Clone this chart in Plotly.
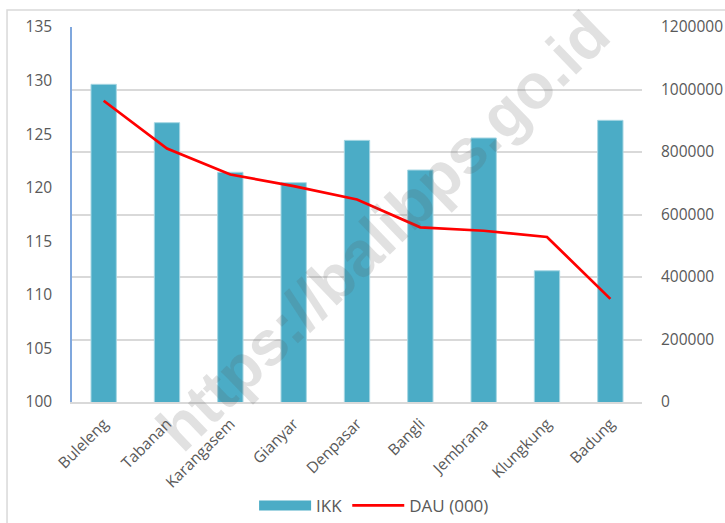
import plotly.graph_objects as go

categories = ["Buleleng", "Tabanan", "Karangasem", "Gianyar", "Denpasar",
              "Bangli", "Jembrana", "Klungkung", "Badung"]
ikk = [129.65, 126.07, 121.44, 120.47, 124.42, 121.65, 124.64, 112.25, 126.29]
dau = [964000, 811000, 728000, 691000, 648000, 559000, 548000, 528000, 330000]

left_ticks = [100, 105, 110, 115, 120, 125, 130, 135]
right_ticks = [0, 200000, 400000, 600000, 800000, 1000000, 1200000]

BAR = "#4BACC6"
RED = "#FF0000"
TXT = "#595959"
GRID = "#D9D9D9"
FONT = "Open Sans"

fig = go.Figure()
fig.add_trace(go.Bar(
    x=categories, y=ikk, name="IKK", yaxis="y", width=0.4,
    marker=dict(color=BAR, line=dict(color="#A6D6E3", width=1)),
    showlegend=False,
))
fig.add_trace(go.Scatter(
    x=categories, y=dau, name="DAU (000)", yaxis="y2", mode="lines",
    line=dict(color=RED, width=2.75), showlegend=False,
))
# legend entries
fig.add_trace(go.Scatter(x=[None], y=[None], mode="lines", name="IKK",
                         line=dict(color=BAR, width=11), yaxis="y"))
fig.add_trace(go.Scatter(x=[None], y=[None], mode="lines", name="DAU (000)",
                         line=dict(color=RED, width=2.75), yaxis="y2"))

fig.update_layout(
    width=725, height=523,
    margin=dict(l=72, r=83, t=27, b=121, autoexpand=False),
    paper_bgcolor="white", plot_bgcolor="white",
    font=dict(family=FONT, size=15.5, color=TXT),
    bargap=0.6,
    xaxis=dict(
        type="category", tickangle=-45, showgrid=False, automargin=False,
        showline=True, linecolor=GRID, linewidth=1.5,
        ticks="", ticklabelstandoff=5,
        tickfont=dict(family=FONT, size=15.5, color=TXT),
    ),
    yaxis=dict(
        range=[100, 135], tickvals=left_ticks, showgrid=False, automargin=False,
        showline=True, linecolor="#7FA7DD", linewidth=1.5,
        ticks="", ticklabelstandoff=15, zeroline=False,
        tickfont=dict(family=FONT, size=15.5, color=TXT),
    ),
    yaxis2=dict(
        range=[0, 1200000], tickvals=right_ticks, tickformat="d", automargin=False,
        overlaying="y", side="right", showgrid=True, gridcolor=GRID,
        gridwidth=1.5, showline=False, zeroline=False, ticks="",
        ticklabelstandoff=18,
        tickfont=dict(family=FONT, size=15.5, color=TXT),
    ),
    legend=dict(
        orientation="h", x=0.53, xanchor="center", y=-0.277, yanchor="middle",
        itemwidth=52,
        font=dict(family=FONT, size=17, color=TXT),
        bgcolor="rgba(0,0,0,0)", itemclick=False,
    ),
    shapes=[dict(
        type="rect", xref="paper", yref="paper",
        x0=-0.114, x1=1.3, y0=-0.5, y1=1.0453,
        line=dict(color=GRID, width=1.5), fillcolor="rgba(0,0,0,0)",
        layer="below",
    )],
    annotations=[dict(
        text="<b>https://balibps.go.id</b>", xref="paper", yref="paper",
        x=0.545, y=0.455, showarrow=False, textangle=-44,
        font=dict(family="Liberation Sans", size=63, color="rgba(90,90,90,0.18)"),
    )],
)

fig.write_html("out.html")
